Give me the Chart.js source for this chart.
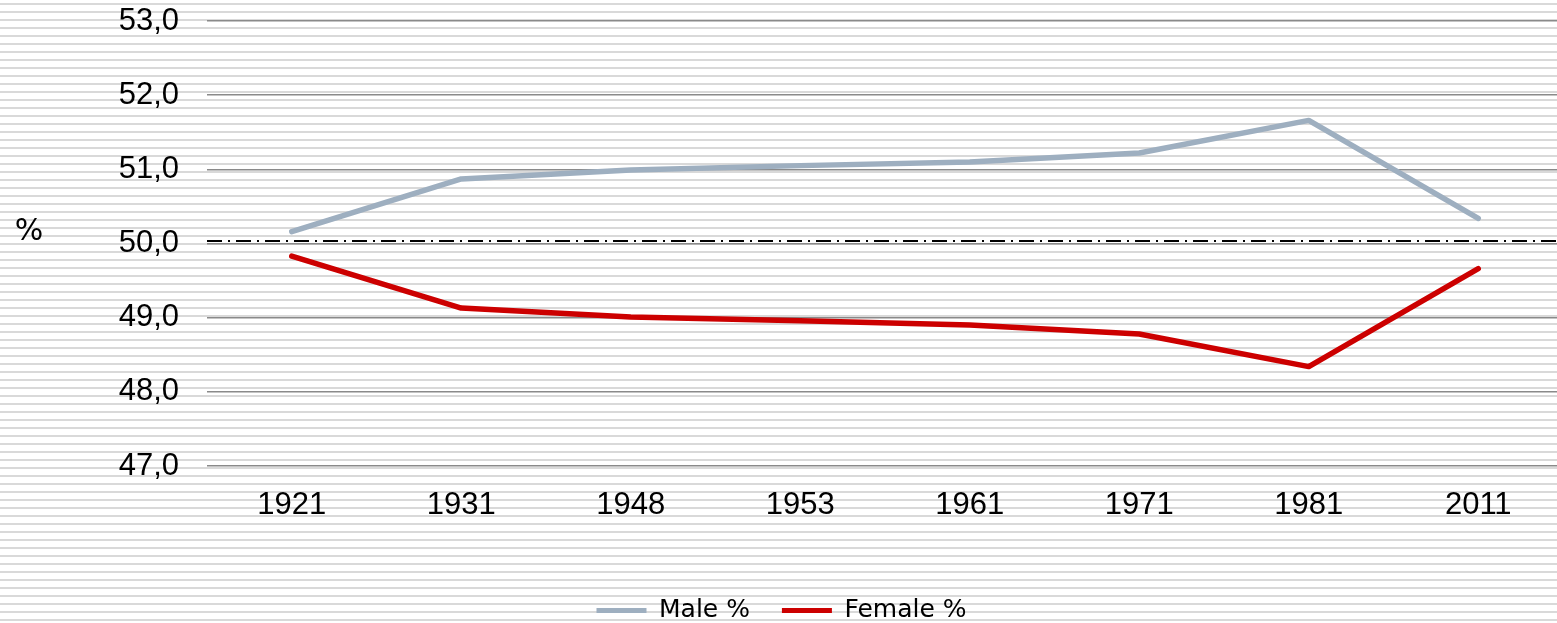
<!DOCTYPE html>
<html>
<head>
<meta charset="utf-8">
<script src="https://cdn.jsdelivr.net/npm/chart.js@4.4.1/dist/chart.umd.min.js"></script>
<style>
    html, body { margin: 0; padding: 0; width: 1557px; height: 623px; overflow: hidden; }
    body {
        background: repeating-linear-gradient(to bottom,
            #fff 0px, #fff 3px, #d9d9d9 3px, #d9d9d9 5px, #fff 5px, #fff 8px);
    }
    canvas { display: block; }
</style>
</head>
<body>
<canvas id="chartsexo" width="1563" height="623"></canvas>
<script>
const years = ['1921', '1931', '1948', '1953', '1961', '1971', '1981', '2011'];
const malePct = [50.16, 50.87, 50.99, 51.05, 51.10, 51.22, 51.66, 50.34];
const femalePct = [49.83, 49.13, 49.01, 48.96, 48.90, 48.78, 48.34, 49.66];
const parityLevel = 50.035;
const yMin = 47;
const yMax = 53;

document.addEventListener('DOMContentLoaded', () => {
    const ctx = document.getElementById('chartsexo');

    // "%" written left of the value axis, not rotated
    const yUnit = {
        id: 'yUnit',
        afterDraw(chart) {
            const c = chart.ctx;
            c.save();
            c.font = '30px "DejaVu Sans"';
            c.fillStyle = '#000';
            c.textAlign = 'center';
            c.textBaseline = 'middle';
            c.fillText('%', 29, 232);
            c.restore();
        }
    };

    const data = {
        labels: years,
        datasets: [
            {
                label: 'Male %',
                data: malePct,
                borderColor: '#9eafc0',
                backgroundColor: '#9eafc0',
                borderWidth: 5.5,
                borderCapStyle: 'round',
                borderJoinStyle: 'round',
                pointRadius: 0,
                tension: 0
            },
            {
                label: 'Female %',
                data: femalePct,
                borderColor: '#cc0000',
                backgroundColor: '#cc0000',
                borderWidth: 5.5,
                borderCapStyle: 'round',
                borderJoinStyle: 'round',
                pointRadius: 0,
                tension: 0
            },
            {
                label: '50',
                data: [{ x: 0, y: parityLevel }, { x: 1, y: parityLevel }],
                xAxisID: 'x2',
                borderColor: '#000',
                borderWidth: 2,
                borderDash: [15, 6, 2, 6],
                pointRadius: 0
            }
        ]
    };

    const config = {
        type: 'line',
        data: data,
        options: {
            responsive: false,
            animation: false,
            layout: {
                padding: { top: 21, left: 0, right: 0, bottom: -10 }
            },
            plugins: {
                legend: {
                    position: 'bottom',
                    labels: {
                        font: { family: '"DejaVu Sans"', size: 25 },
                        color: '#000',
                        boxWidth: 50,
                        boxHeight: 5,
                        padding: 32,
                        useBorderRadius: true,
                        borderRadius: 2.5,
                        filter: (item) => item.datasetIndex < 2,
                        generateLabels: (chart) => chart.data.datasets.map((ds, i) => ({
                            text: ds.label,
                            fillStyle: ds.borderColor,
                            strokeStyle: ds.borderColor,
                            lineWidth: 0,
                            datasetIndex: i,
                            fontColor: '#000'
                        }))
                    }
                },
                tooltip: { enabled: false }
            },
            scales: {
                x: {
                    type: 'category',
                    offset: true,
                    grid: { display: false },
                    border: { display: false },
                    ticks: {
                        color: '#000',
                        padding: 13,
                        maxRotation: 0,
                        font: { family: '"Liberation Sans", Arial', size: 31 }
                    },
                    afterFit: (scale) => { scale.height = 100; }
                },
                x2: {
                    type: 'linear',
                    display: false,
                    min: 0,
                    max: 1
                },
                y: {
                    min: yMin,
                    max: yMax,
                    grid: {
                        color: '#8a8a8a',
                        lineWidth: 1.5,
                        drawTicks: false
                    },
                    border: { display: false },
                    ticks: {
                        stepSize: 1,
                        padding: 28,
                        color: '#000',
                        font: { family: '"Liberation Sans", Arial', size: 31 },
                        callback: (v) => v.toFixed(1).replace('.', ',')
                    },
                    afterFit: (scale) => {
                        scale.width = 207;
                        scale.paddingTop = 0;
                        scale.paddingBottom = 0;
                    }
                }
            }
        },
        plugins: [yUnit]
    };

    new Chart(ctx, config);
});
</script>
</body>
</html>
